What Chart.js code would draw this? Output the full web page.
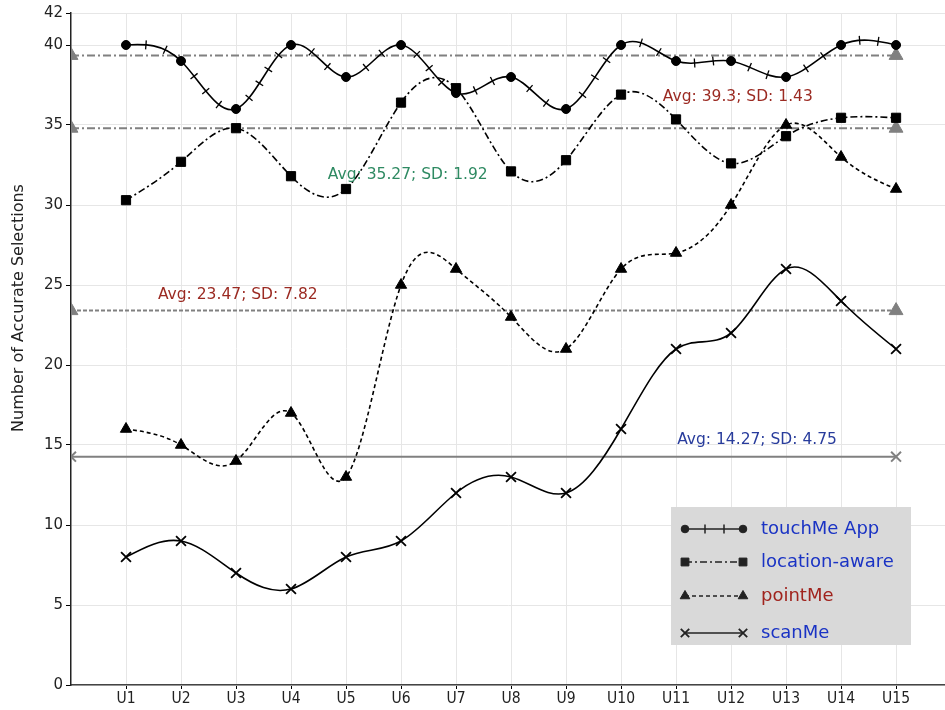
<!DOCTYPE html>
<html>
<head>
<meta charset="utf-8">
<script src="https://cdn.jsdelivr.net/npm/chart.js@4.4.1/dist/chart.umd.min.js"></script>
<style>
  html, body { margin: 0; padding: 0; background: #fff; }
</style>
</head>
<body>
<canvas id="chart" width="945" height="710"></canvas>
<script>
// datos
const users = ['U1', 'U2', 'U3', 'U4', 'U5', 'U6', 'U7', 'U8', 'U9', 'U10', 'U11', 'U12', 'U13', 'U14', 'U15'];
const touchMe = [40, 39, 36, 40, 38, 40, 37, 38, 36, 40, 39, 39, 38, 40, 40];
const locationAware = [30.3, 32.7, 34.8, 31.8, 31, 36.4, 37.3, 32.1, 32.8, 36.9, 35.35, 32.6, 34.3, 35.45, 35.45];
const pointMe = [16, 15, 14, 17, 13, 25, 26, 23, 21, 26, 27, 30, 35, 33, 31];
const scanMe = [8, 9, 7, 6, 8, 9, 12, 13, 12, 16, 21, 22, 26, 24, 21];

const avgValues = [39.35, 34.8, 23.4, 14.27];
const avgTexts = ['Avg: 39.3; SD: 1.43', 'Avg: 35.27; SD: 1.92', 'Avg: 23.47; SD: 7.82', 'Avg: 14.27; SD: 4.75'];
const yTicks = [0, 5, 10, 15, 20, 25, 30, 35, 40, 42];
const legendNames = ['touchMe App', 'location-aware', 'pointMe', 'scanMe'];

// posicion de las etiquetas Avg (en unidades de datos)
const avgTextPos = [[10.76, 36.77], [4.67, 31.85], [1.58, 24.38], [11.02, 15.31]];
const avgTextColors = ['#9b2a22', '#2e8a62', '#9b2a22', '#283c9c'];
const legendColors = ['#1a33c4', '#1a33c4', '#a0231d', '#1a33c4'];

const FONT = '"DejaVu Sans", "Lucida Grande", sans-serif';

const toXY = arr => arr.map((v, i) => ({ x: i + 1, y: v }));
const avgLine = v => [{ x: 0, y: v }, { x: users.length, y: v }];

const seriesStyle = [
  { pointStyle: 'circle', radius: 4.5, dash: [] },
  { pointStyle: 'rect', radius: 6.5, dash: [7, 3, 2, 3] },
  { pointStyle: 'triangle', radius: 6.5, dash: [4, 3] },
  { pointStyle: 'crossRot', radius: 7, dash: [] }
];
const avgDash = [[8, 3, 2, 3], [8, 3, 2, 3], [4, 2], []];
const avgPointStyle = ['triangle', 'triangle', 'triangle', 'crossRot'];

const seriesData = [touchMe, locationAware, pointMe, scanMe];

const datasets = [];
seriesData.forEach((arr, i) => {
  const st = seriesStyle[i];
  datasets.push({
    label: legendNames[i],
    data: toXY(arr),
    borderColor: '#000',
    backgroundColor: '#000',
    borderWidth: 1.6,
    borderDash: st.dash,
    tension: 0.4,
    pointStyle: st.pointStyle,
    pointRadius: st.radius,
    pointBorderWidth: st.pointStyle === 'crossRot' ? 1.8 : 1,
    pointBorderColor: '#000',
    pointBackgroundColor: '#000'
  });
});
avgValues.forEach((v, i) => {
  datasets.push({
    label: 'avg' + i,
    data: avgLine(v),
    borderColor: '#808080',
    backgroundColor: '#808080',
    borderWidth: 2,
    borderDash: avgDash[i],
    tension: 0,
    pointStyle: avgPointStyle[i],
    pointRadius: avgPointStyle[i] === 'crossRot' ? 7 : 8,
    pointBorderWidth: avgPointStyle[i] === 'crossRot' ? 2 : 1,
    pointBorderColor: '#808080',
    pointBackgroundColor: '#808080'
  });
});

// ---------- spline natural (como en la figura original) ----------
const naturalSpline = {
  id: 'naturalSpline',
  beforeDatasetsDraw(chart) {
    for (let d = 0; d < seriesData.length; d++) {
      const meta = chart.getDatasetMeta(d);
      const pts = meta.data;
      const n = pts.length;
      if (n < 3) continue;
      const h = pts[1].x - pts[0].x;
      // sistema tridiagonal para las pendientes
      const a = new Array(n).fill(1), b = new Array(n).fill(4), c = new Array(n).fill(1), r = new Array(n);
      b[0] = 2; b[n - 1] = 2;
      r[0] = 3 * (pts[1].y - pts[0].y) / h;
      r[n - 1] = 3 * (pts[n - 1].y - pts[n - 2].y) / h;
      for (let i = 1; i < n - 1; i++) r[i] = 3 * (pts[i + 1].y - pts[i - 1].y) / h;
      for (let i = 1; i < n; i++) {
        const m = a[i] / b[i - 1];
        b[i] -= m * c[i - 1];
        r[i] -= m * r[i - 1];
      }
      const D = new Array(n);
      D[n - 1] = r[n - 1] / b[n - 1];
      for (let i = n - 2; i >= 0; i--) D[i] = (r[i] - c[i] * D[i + 1]) / b[i];
      for (let i = 0; i < n; i++) {
        const p = pts[i];
        p.cp1x = p.x - h / 3; p.cp1y = p.y - D[i] * h / 3;
        p.cp2x = p.x + h / 3; p.cp2y = p.y + D[i] * h / 3;
      }
      meta.dataset._pointsUpdated = true;
      meta.dataset._path = undefined;
    }
  }
};

// ---------- rayitas sobre la curva de touchMe ----------
const tickMarks = {
  id: 'tickMarks',
  afterDatasetsDraw(chart) {
    const pts = chart.getDatasetMeta(0).data;
    const ctx = chart.ctx;
    ctx.save();
    ctx.strokeStyle = '#000';
    ctx.lineWidth = 1.3;
    for (let i = 0; i < pts.length - 1; i++) {
      const p0 = pts[i], p3 = pts[i + 1];
      const c1 = { x: p0.cp2x, y: p0.cp2y }, c2 = { x: p3.cp1x, y: p3.cp1y };
      const bez = t => {
        const u = 1 - t;
        return {
          x: u * u * u * p0.x + 3 * u * u * t * c1.x + 3 * u * t * t * c2.x + t * t * t * p3.x,
          y: u * u * u * p0.y + 3 * u * u * t * c1.y + 3 * u * t * t * c2.y + t * t * t * p3.y
        };
      };
      const N = 80;
      const samples = [bez(0)];
      const lens = [0];
      for (let k = 1; k <= N; k++) {
        const p = bez(k / N);
        const q = samples[k - 1];
        lens.push(lens[k - 1] + Math.hypot(p.x - q.x, p.y - q.y));
        samples.push(p);
      }
      const total = lens[N];
      const m = Math.max(1, Math.round(total / 19) - 1);
      for (let j = 1; j <= m; j++) {
        const target = total * j / (m + 1);
        let k = 1;
        while (k < N && lens[k] < target) k++;
        const a = samples[k - 1], b = samples[k];
        const dx = b.x - a.x, dy = b.y - a.y;
        const d = Math.hypot(dx, dy) || 1;
        const nx = -dy / d, ny = dx / d;
        ctx.beginPath();
        ctx.moveTo(b.x - nx * 4.5, b.y - ny * 4.5);
        ctx.lineTo(b.x + nx * 4.5, b.y + ny * 4.5);
        ctx.stroke();
      }
    }
    ctx.restore();
  }
};

// ---------- textos Avg, titulo del eje y leyenda ----------
const extras = {
  id: 'extras',
  afterDraw(chart) {
    const ctx = chart.ctx;
    const xs = chart.scales.x, ys = chart.scales.y;
    ctx.save();
    ctx.font = '15.5px ' + FONT;
    ctx.textBaseline = 'middle';
    ctx.textAlign = 'left';
    avgTexts.forEach((t, i) => {
      ctx.fillStyle = avgTextColors[i];
      ctx.fillText(t, xs.getPixelForValue(avgTextPos[i][0]), ys.getPixelForValue(avgTextPos[i][1]));
    });

    // titulo del eje y
    ctx.save();
    ctx.translate(19, 308);
    ctx.rotate(-Math.PI / 2);
    ctx.textAlign = 'center';
    ctx.fillStyle = '#222';
    ctx.font = '16px ' + FONT;
    ctx.fillText('Number of Accurate Selections', 0, 0);
    ctx.restore();

    // leyenda
    const bx = 671, by = 507, bw = 240, bh = 138;
    ctx.fillStyle = '#d9d9d9';
    ctx.fillRect(bx, by, bw, bh);
    const rows = [529, 562, 596, 633];
    const x0 = 685, x1 = 743;
    rows.forEach((ry, i) => {
      const st = seriesStyle[i];
      ctx.strokeStyle = '#222';
      ctx.fillStyle = '#222';
      ctx.lineWidth = 1.5;
      ctx.setLineDash(st.dash);
      ctx.beginPath();
      ctx.moveTo(x0, ry);
      ctx.lineTo(x1, ry);
      ctx.stroke();
      ctx.setLineDash([]);
      if (i === 0) {
        [705, 724].forEach(tx => {
          ctx.beginPath();
          ctx.moveTo(tx, ry - 4.5);
          ctx.lineTo(tx, ry + 4.5);
          ctx.stroke();
        });
      }
      [x0, x1].forEach(px => {
        ctx.fillStyle = '#222';
        ctx.strokeStyle = '#222';
        ctx.lineWidth = st.pointStyle === 'crossRot' ? 1.8 : 1;
        Chart.helpers.drawPoint(ctx, {
          pointStyle: st.pointStyle, radius: st.radius * 0.85, rotation: 0,
          borderWidth: st.pointStyle === 'crossRot' ? 1.8 : 1
        }, px, ry);
      });
      ctx.fillStyle = legendColors[i];
      ctx.font = '18px ' + FONT;
      ctx.textAlign = 'left';
      ctx.fillText(legendNames[i], 761, ry);
    });
    ctx.restore();
  }
};

new Chart(document.getElementById('chart'), {
  type: 'line',
  data: { datasets: datasets },
  plugins: [naturalSpline, tickMarks, extras],
  options: {
    responsive: false,
    animation: false,
    devicePixelRatio: 1,
    layout: { autoPadding: false, padding: { top: 13, right: 0, left: 0, bottom: 0 } },
    plugins: { legend: { display: false }, tooltip: { enabled: false } },
    scales: {
      x: {
        type: 'linear',
        min: 0,
        max: 15.89,
        afterBuildTicks: s => { s.ticks = users.map((u, i) => ({ value: i + 1 })); },
        afterFit: s => { s.height = 25; s.paddingRight = 0; s.paddingLeft = 0; },
        grid: { color: '#e6e6e6', tickColor: '#000', tickLength: 4, lineWidth: 1 },
        border: { color: '#444', width: 1.5 },
        ticks: {
          color: '#222',
          padding: 1,
          maxRotation: 0,
          autoSkip: false,
          font: { family: '"DejaVu Sans Condensed", "DejaVu Sans", sans-serif', size: 15.5 },
          callback: v => users[v - 1] || ''
        }
      },
      y: {
        min: 0,
        max: 42,
        afterBuildTicks: s => { s.ticks = yTicks.map(v => ({ value: v })); },
        afterFit: s => { s.width = 71; },
        grid: { color: '#e6e6e6', tickColor: '#000', tickLength: 5, lineWidth: 1 },
        border: { color: '#222', width: 1.5 },
        ticks: {
          color: '#222',
          padding: 3,
          font: { family: FONT, size: 15 }
        }
      }
    }
  }
});
</script>
</body>
</html>
